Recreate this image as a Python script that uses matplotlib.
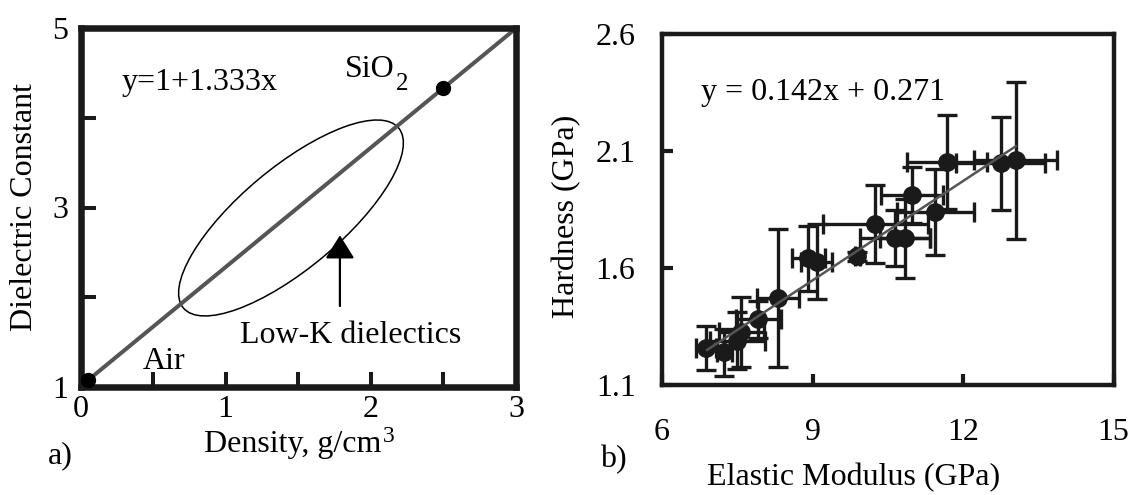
import matplotlib.pyplot as plt
from matplotlib.patches import Ellipse
from matplotlib.transforms import ScaledTranslation

plt.rcParams['font.family'] = ['Liberation Serif', 'DejaVu Serif']
plt.rcParams['font.size'] = 23

# a) dielectric constant vs density
dens_line = [0.05, 3.0]
k_line = [1.07, 5.0]
dens_pts = [0.055, 2.5]
k_pts = [1.08, 4.33]
dens_ticks = [0, 0.5, 1, 1.5, 2, 2.5, 3]
dens_labels = ['0', '', '1', '', '2', '', '3']
k_ticks = [1, 2, 3, 4, 5]
k_labels = ['1', '', '3', '', '5']

# b) hardness vs elastic modulus
modulus = [6.88, 7.24, 7.50, 7.58, 7.92, 8.32, 8.92, 9.08, 9.89, 10.25,
           10.65, 10.85, 10.98, 11.45, 11.68, 12.75, 13.05]
hardness = [1.258, 1.240, 1.290, 1.328, 1.380, 1.472, 1.641, 1.627, 1.650, 1.788,
            1.727, 1.727, 1.912, 1.840, 2.054, 2.047, 2.060]
modulus_err = [0.20, 0.15, 0.55, 0.45, 0.45, 0.42, 0.33, 0.30, 0.05, 1.05,
               0.70, 0.50, 0.62, 0.77, 0.80, 0.89, 0.83]
hardness_err = [0.093, 0.10, 0.12, 0.15, 0.08, 0.295, 0.14, 0.16, 0.02, 0.165,
                0.12, 0.17, 0.12, 0.185, 0.20, 0.20, 0.335]
fit_x = [6.9, 13.05]
fit_y = [1.25, 2.12]
mod_ticks = [6, 9, 12, 15]
hard_ticks = [1.1, 1.6, 2.1, 2.6]
hard_labels = ['1.1', '1.6', '2.1', '2.6']

W, H = 1131, 495
fig = plt.figure(figsize=(W / 100, H / 100), dpi=100)

ink = '#1a1a1a'
grey = '#555555'

# ---- panel a
axa = fig.add_axes([80.5 / W, 1 - 386.7 / H, 435.5 / W, 358.4 / H])
axa.plot(dens_line, k_line, color=grey, lw=2.9, solid_capstyle='butt', zorder=2)
axa.plot(dens_pts, k_pts, 'o', color='black', ms=10, zorder=3)
axa.set_xlim(0, 3)
axa.set_ylim(1, 5)
axa.set_xticks(dens_ticks)
axa.set_xticklabels(dens_labels)
axa.set_yticks(k_ticks)
axa.set_yticklabels(k_labels)
axa.tick_params(direction='in', length=11, width=2.9, color=ink)
axa.tick_params(axis='x', pad=6)
axa.tick_params(axis='y', pad=9)
for s in axa.spines.values():
    s.set_linewidth(4.7)
    s.set_color(ink)

# ellipse sized in inches, centred on a data point
ell = Ellipse((0, 0), width=2.806, height=1.01, angle=39.9, fill=False, lw=1.1,
              color='black',
              transform=fig.dpi_scale_trans + ScaledTranslation(1.45, 2.883, axa.transData))
axa.add_patch(ell)
axa.annotate('', xy=(1.787, 2.69), xytext=(1.787, 1.90),
             arrowprops=dict(arrowstyle='-|>,head_length=0.4,head_width=0.25',
                             mutation_scale=36, lw=1.6, color='black',
                             shrinkA=0, shrinkB=0))
axa.text(0.286, 4.31, 'y=1+1.333x', va='baseline')
sio = axa.text(1.82, 4.455, 'SiO', va='baseline')
axa.annotate('2', xy=(1, 0), xycoords=sio, xytext=(1, -8), textcoords='offset points',
             fontsize=18, va='bottom')
axa.text(1.098, 1.487, 'Low-K dielectics', va='baseline')
axa.text(0.43, 1.197, 'Air', va='baseline')

fig.text(25 / W, 1 - 207.5 / H, 'Dielectric Constant', rotation=90, ha='center', va='center')
dens_lab = fig.text(204 / W, 1 - 452 / H, 'Density, g/cm', ha='left', va='baseline')
fig.canvas.draw()
bb = dens_lab.get_window_extent()
fig.text((bb.x1 + 1) / W, 1 - 426 / H, '3', fontsize=17, ha='left', va='top')
fig.text(48 / W, 1 - 463 / H, 'a)', ha='left', va='baseline')

# ---- panel b
axb = fig.add_axes([662 / W, 1 - 385 / H, 451.5 / W, 351 / H])
axb.errorbar(modulus, hardness, xerr=modulus_err, yerr=hardness_err, fmt='o',
             color=ink, ms=12.5, elinewidth=2.4, capsize=7, capthick=2.4, zorder=2)
axb.plot(fit_x, fit_y, color=grey, lw=1.8, zorder=3)
axb.set_xlim(6, 15)
axb.set_ylim(1.1, 2.6)
axb.set_xticks(mod_ticks)
axb.set_yticks(hard_ticks)
axb.set_yticklabels(hard_labels)
axb.tick_params(direction='in', length=8, width=3, color=ink)
axb.tick_params(axis='x', pad=24)
axb.tick_params(axis='y', pad=19)
for s in axb.spines.values():
    s.set_linewidth(3.2)
    s.set_color(ink)
axb.text(6.78, 2.318, 'y = 0.142x + 0.271', va='baseline')

fig.text(567 / W, 1 - 216 / H, 'Hardness (GPa)', rotation=90, ha='center', va='center')
fig.text(854 / W, 1 - 485 / H, 'Elastic Modulus (GPa)', ha='center', va='baseline')
fig.text(600 / W, 1 - 467 / H, 'b)', ha='left', va='baseline')

fig.savefig('out.png', dpi=100)
